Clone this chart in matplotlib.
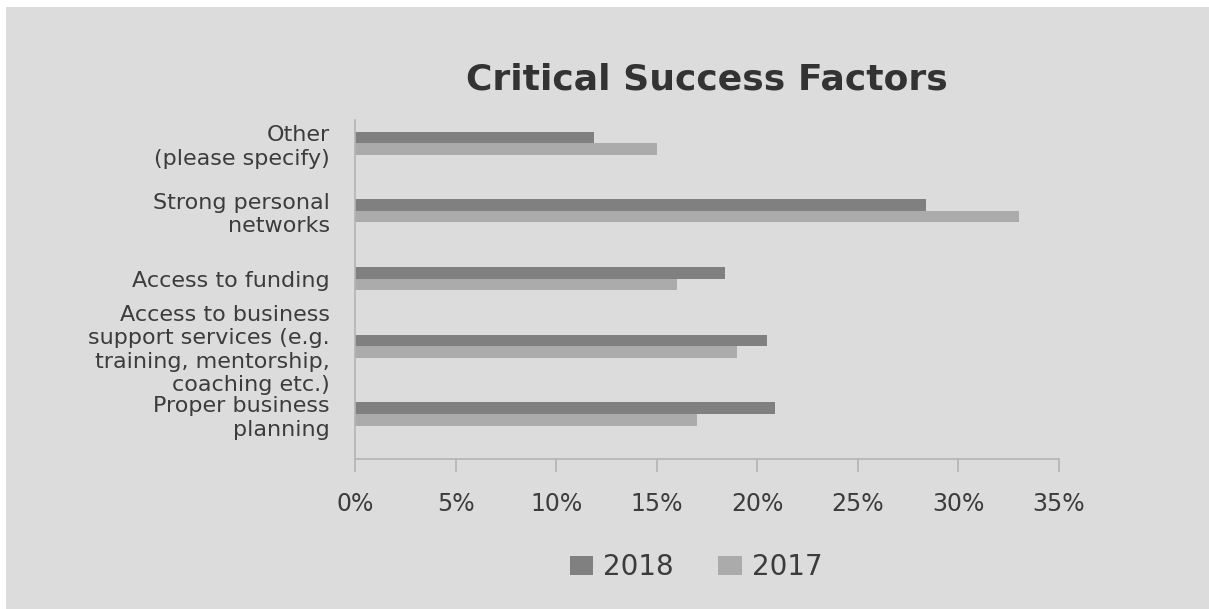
import numpy as np
import matplotlib.pyplot as plt
from matplotlib.patches import Rectangle

plt.rcParams['font.family'] = ['DejaVu Sans']

# categories listed bottom to top
categories = ["Proper business\nplanning",
              "Access to business\nsupport services (e.g.\ntraining, mentorship,\ncoaching etc.)",
              "Access to funding",
              "Strong personal\nnetworks",
              "Other\n(please specify)"]
values_2018 = [20.9, 20.5, 18.4, 28.4, 11.9]
values_2017 = [17.0, 19.0, 16.0, 33.0, 15.0]
x_ticks = [0, 5, 10, 15, 20, 25, 30, 35]

text_color = "#3c3c3c"
bg = "#dcdcdc"

fig = plt.figure(figsize=(12.09, 6.09), dpi=100)
fig.patch.set_facecolor("white")
# gray panel, small white margin at top and left
fig.patches.append(Rectangle((6 / 1209, 0), 1, 1 - 7 / 609, transform=fig.transFigure,
                             facecolor=bg, edgecolor="none", zorder=-5))

ax = fig.add_axes([355 / 1209, 1 - 459 / 609, (1059 - 355) / 1209, (459 - 120) / 609])
ax.set_facecolor("none")
ax.set_zorder(2)

y = np.arange(len(categories))
h = 0.17
b1 = ax.barh(y + h / 2, values_2018, height=h, color="#808080", label="2018")
b2 = ax.barh(y - h / 2, values_2017, height=h, color="#ababab", label="2017")

ax.set_xlim(0, 35)
ax.set_ylim(-0.664, 4.34)
ax.set_xticks(x_ticks)
ax.set_xticklabels([f"{t}%" for t in x_ticks], fontsize=17, color=text_color)
ax.set_yticks(y)
ax.set_yticklabels(categories, fontsize=16, color=text_color, linespacing=1.22)
ax.tick_params(axis="y", length=0, pad=18)
ax.tick_params(axis="x", length=9, width=1.2, color="#b4b4b4", pad=15)

for s in ["top", "right"]:
    ax.spines[s].set_visible(False)
for s in ["left", "bottom"]:
    ax.spines[s].set_color("#b4b4b4")
    ax.spines[s].set_linewidth(1.2)

fig.text(707 / 1209, 1 - 80 / 609, "Critical Success Factors", ha="center", va="center",
         fontsize=26, fontweight="bold", color="#333333")

fig.legend(handles=[b1, b2], loc="center", bbox_to_anchor=(696 / 1209, 1 - 567 / 609),
           ncol=2, frameon=False, fontsize=20, handlelength=0.85, handleheight=0.7,
           handletextpad=0.35, columnspacing=1.6, labelcolor=text_color)

plt.savefig("out.png", dpi=100)
